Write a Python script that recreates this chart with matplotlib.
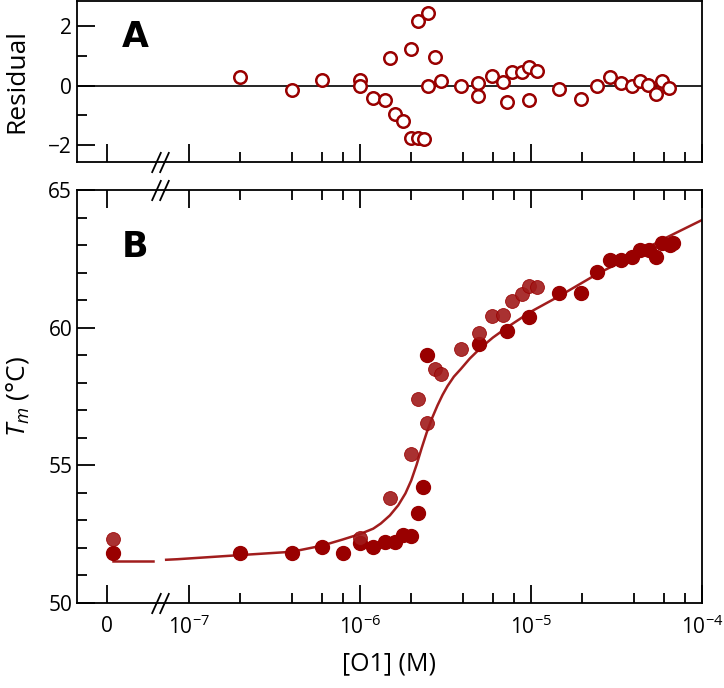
import numpy as np
import matplotlib
matplotlib.use('Agg')
import matplotlib.pyplot as plt
from matplotlib.ticker import FixedLocator, MultipleLocator, NullFormatter, FixedFormatter

plt.rcParams['font.family'] = ['Open Sans', 'DejaVu Sans']
plt.rcParams['mathtext.fontset'] = 'custom'
plt.rcParams['mathtext.rm'] = 'Open Sans'
plt.rcParams['mathtext.it'] = 'Open Sans:italic'
plt.rcParams['mathtext.bf'] = 'Open Sans:bold'

# ---------------- data ----------------
# replicate 1 (dark filled circles)
conc_a = [0, 2.0e-7, 4.0e-7, 6.0e-7, 8.0e-7, 1.0e-6, 1.2e-6, 1.4e-6, 1.6e-6, 1.8e-6,
          2.0e-6, 2.2e-6, 2.35e-6, 2.46e-6, 5.0e-6, 7.3e-6, 9.8e-6, 1.46e-5, 1.97e-5,
          2.42e-5, 2.92e-5, 3.38e-5, 3.92e-5, 4.36e-5, 4.88e-5, 5.4e-5, 5.83e-5,
          6.46e-5, 6.8e-5]
tm_a = [51.83, 51.83, 51.83, 52.04, 51.83, 52.17, 52.04, 52.23, 52.23, 52.47,
        52.44, 53.27, 54.22, 59.01, 59.40, 59.89, 60.40, 61.27, 61.27,
        62.01, 62.46, 62.46, 62.56, 62.82, 62.82, 62.56, 63.09,
        63.00, 63.09]
# replicate 2 (lighter filled circles)
conc_b = [0, 1.0e-6, 1.5e-6, 2.0e-6, 2.2e-6, 2.46e-6, 2.75e-6, 3.0e-6, 3.9e-6,
          5.0e-6, 5.9e-6, 6.9e-6, 7.8e-6, 8.9e-6, 9.8e-6, 1.08e-5]
tm_b = [52.33, 52.35, 53.82, 55.41, 57.40, 56.55, 58.49, 58.32, 59.21,
        59.82, 60.42, 60.46, 60.98, 61.21, 61.51, 61.49]

# fitted curve
fit_tm_zero = 51.54
fit_conc = [7.4e-8, 8.6e-8, 2.0e-7, 4.0e-7, 6.0e-7, 7.9e-7, 1.0e-6, 1.2e-6, 1.33e-6,
            1.5e-6, 1.68e-6, 1.85e-6, 2.0e-6, 2.15e-6, 2.3e-6, 2.46e-6, 2.65e-6,
            2.85e-6, 3.05e-6, 3.26e-6, 3.55e-6, 3.9e-6, 4.4e-6, 5.1e-6, 6.0e-6,
            7.3e-6, 1.0e-5, 1.46e-5, 2.44e-5, 3.64e-5, 5.96e-5, 1.0e-4]
fit_tm = [51.57, 51.59, 51.74, 51.86, 52.08, 52.30, 52.50, 52.70, 52.89,
          53.18, 53.55, 53.98, 54.45, 55.02, 55.62, 56.18, 56.72,
          57.18, 57.56, 57.88, 58.22, 58.50, 58.88, 59.27, 59.64,
          60.02, 60.58, 61.14, 61.95, 62.50, 63.22, 63.91]

# residuals
res_conc = [2.0e-7, 4.0e-7, 6.0e-7, 1.0e-6, 1.0e-6, 1.2e-6, 1.4e-6, 1.5e-6, 1.6e-6,
            1.8e-6, 2.0e-6, 2.0e-6, 2.2e-6, 2.36e-6, 2.2e-6, 2.5e-6, 2.5e-6, 2.75e-6,
            2.97e-6, 3.9e-6, 4.94e-6, 4.94e-6, 5.9e-6, 6.9e-6, 7.3e-6, 7.8e-6, 8.9e-6,
            9.8e-6, 9.8e-6, 1.08e-5, 1.47e-5, 1.97e-5, 2.42e-5, 2.92e-5, 3.38e-5,
            3.92e-5, 4.36e-5, 4.86e-5, 5.4e-5, 5.85e-5, 6.4e-5]
res_val = [0.30, -0.15, 0.19, 0.19, -0.01, -0.41, -0.50, 0.92, -0.95,
           -1.20, 1.24, -1.76, -1.76, -1.81, 2.19, 2.45, -0.02, 0.98,
           0.17, 0.00, 0.08, -0.35, 0.33, 0.12, -0.56, 0.46, 0.46,
           0.62, -0.50, 0.49, -0.13, -0.46, -0.03, 0.28, 0.08,
           0.00, 0.15, 0.01, -0.30, 0.15, -0.08]

x_tick_values = [0, 1e-7, 1e-6, 1e-5, 1e-4]
x_tick_labels = ['0', r'$10^{-7}$', r'$10^{-6}$', r'$10^{-5}$', r'$10^{-4}$']

# ---------------- layout constants ----------------
X_LEFT, X_RIGHT = 2.23e-8, 1.0e-4
ZERO_TICK_POS = 3.34e-8      # where the "0" label sits on the log axis
ZERO_POINT_POS = 3.62e-8     # where zero-concentration points are drawn
ZERO_LINE_END = 6.2e-8       # end of zero segment of the curve (before break)
BREAK_POS = [6.43e-8, 7.15e-8]

dark = '#990000'
light = '#a01a1a'
curve_c = '#a11d1d'


def place(c, zero_pos):
    c = np.asarray(c, dtype=float)
    return np.where(c == 0, zero_pos, c)


W, H = 724, 688
fig = plt.figure(figsize=(W / 100, H / 100), dpi=100)
axA = fig.add_axes([77 / W, 1 - 162 / H, (702 - 77) / W, 161.5 / H])
axB = fig.add_axes([77 / W, 1 - 603 / H, (702 - 77) / W, 413 / H])

minor_x = [m * 10.0 ** e for e in (-7, -6, -5) for m in (2, 4, 6, 8)]
major_x = [ZERO_TICK_POS] + x_tick_values[1:]

for ax in (axA, axB):
    ax.set_xscale('log')
    ax.set_xlim(X_LEFT, X_RIGHT)
    ax.xaxis.set_major_locator(FixedLocator(major_x))
    ax.xaxis.set_minor_locator(FixedLocator(minor_x))
    ax.xaxis.set_minor_formatter(NullFormatter())
    for s in ax.spines.values():
        s.set_linewidth(1.3)
    ax.tick_params(which='major', direction='in', length=13, width=1.3, labelsize=15)
    ax.tick_params(which='minor', direction='in', length=7, width=1.3)

# ---- panel A: residuals ----
axA.axhline(0, color='black', lw=1.2, zorder=1)
axA.plot(res_conc, res_val, 'o', ms=9, mfc='white', mec=dark, mew=1.8, zorder=3)
axA.set_ylim(-2.58, 2.87)
axA.yaxis.set_major_locator(FixedLocator([-2, 0, 2]))
axA.yaxis.set_minor_locator(FixedLocator([-1, 1]))
axA.tick_params(axis='x', which='both', labelbottom=False, bottom=True, top=False)
axA.tick_params(axis='y', which='both', left=True, right=False)
axA.set_ylabel('Residual', fontsize=19, labelpad=14)
axA.text(0.072, 0.777, 'A', transform=axA.transAxes, fontsize=25,
         fontweight='heavy', family='DejaVu Sans', va='center', ha='left')

# ---- panel B: Tm ----
axB.plot([ZERO_POINT_POS, ZERO_LINE_END], [fit_tm_zero, fit_tm_zero], '-',
         color=curve_c, lw=1.8, zorder=2)
axB.plot(fit_conc, fit_tm, '-', color=curve_c, lw=1.8, zorder=2)
axB.plot(place(conc_a, ZERO_POINT_POS), tm_a, 'o', ms=10, color=dark, mec=dark,
         zorder=3)
axB.plot(place(conc_b, ZERO_POINT_POS), tm_b, 'o', ms=10, color=light, mec=dark,
         mew=0.6, alpha=0.9, zorder=3)
axB.set_ylim(50, 65)
axB.yaxis.set_major_locator(MultipleLocator(5))
axB.yaxis.set_minor_locator(MultipleLocator(1))
axB.tick_params(axis='x', which='both', bottom=True, top=True)
axB.tick_params(axis='y', which='both', left=True, right=False)
axB.xaxis.set_major_formatter(FixedFormatter(x_tick_labels))
axB.tick_params(axis='x', which='major', pad=9)
axB.set_ylabel(r'$T_m$ (°C)', fontsize=19, labelpad=12)
axB.set_xlabel('[O1] (M)', fontsize=18, labelpad=9)
axB.text(0.072, 0.861, 'B', transform=axB.transAxes, fontsize=25,
         fontweight='heavy', family='DejaVu Sans', va='center', ha='left')

# ---- axis break marks ----
brk = dict(marker=[(-0.45, -1), (0.45, 1)], markersize=15, linestyle='none',
           color='black', mec='black', mew=1.3, clip_on=False, zorder=5)
axA.plot(BREAK_POS, [0, 0], transform=axA.get_xaxis_transform(), **brk)
axB.plot(BREAK_POS, [1, 1], transform=axB.get_xaxis_transform(), **brk)
axB.plot(BREAK_POS, [0, 0], transform=axB.get_xaxis_transform(), **brk)

fig.savefig('out.png', dpi=100)
